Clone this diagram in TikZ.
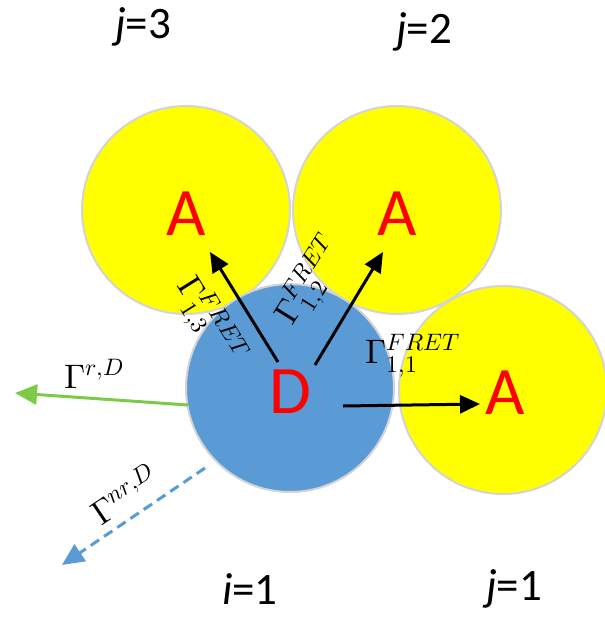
\documentclass[tikz,border=0pt]{standalone}
\usepackage{fontspec}
\usepackage{unicode-math}
\setmainfont{Carlito}
\setmathfont{Latin Modern Math}
\usetikzlibrary{arrows.meta}
\definecolor{ayel}{HTML}{FFFF00}
\definecolor{dblue}{HTML}{5B9BD5}
\definecolor{rgreen}{HTML}{7DC94A}
\definecolor{rimgray}{HTML}{D4D4D4}
\definecolor{lred}{HTML}{FF0000}
\tikzset{
  mol/.style={circle, draw=rimgray, line width=2pt, minimum size=208pt, inner sep=0pt},
  acc/.style={mol, fill=ayel},
  don/.style={mol, fill=dblue},
  letter/.style={text=lred, font=\fontsize{68}{70}\selectfont, inner sep=0pt},
  idx/.style={font=\fontsize{45}{47}\selectfont, inner sep=0pt},
  rate/.style={font=\fontsize{34}{36}\selectfont, inner sep=0pt},
  fret/.style={line width=3pt, -{Triangle[length=20pt,width=18pt]}},
  rad/.style={line width=3pt, draw=rgreen, -{Triangle[length=22pt,width=20pt]}, color=rgreen},
  nrad/.style={line width=3pt, draw=dblue, dash pattern=on 10pt off 6pt, -{Triangle[length=22pt,width=20pt]}, color=dblue}
}
\begin{document}
\begin{tikzpicture}[x=1pt,y=-1pt]
\useasboundingbox (0,0) rectangle (605,619);
\node[acc] (a3) at (186,210) {};
\node[acc] (a2) at (397,210) {};
\node[acc] (a1) at (503,390) {};
\node[don] (d) at (290,388) {};
\node[letter] (la3) at (186,214) {A};
\node[letter] (la2) at (397,214) {A};
\node[letter] (la1) at (505,393) {A};
\node[letter] (ld) at (290,392) {D};
\coordinate (s3) at (278,362);
\coordinate (t3) at (210,252);
\coordinate (s2) at (315,365);
\coordinate (t2) at (383,252);
\coordinate (s1) at (343,406);
\coordinate (t1) at (480,404);
\coordinate (sr) at (188,405);
\coordinate (tr) at (15,393);
\coordinate (snr) at (205,468);
\coordinate (tnr) at (62,565);
\draw[fret] (s3) -- (t3);
\draw[fret] (s2) -- (t2);
\draw[fret] (s1) -- (t1);
\draw[rad] (sr) -- (tr);
\draw[nrad] (snr) -- (tnr);
\node[rate, rotate=-58] (g13) at (208,322) {$\Gamma_{1,3}^{FRET}$};
\node[rate, rotate=58] (g12) at (312,282) {$\Gamma_{1,2}^{FRET}$};
\node[rate] (g11) at (413,356) {$\Gamma_{1,1}^{FRET}$};
\node[rate] (gr) at (94,374) {$\Gamma^{r,D}$};
\node[rate, rotate=34] (gnr) at (124,494) {$\Gamma^{nr,D}$};
\node[idx] (j3) at (143,27) {\textit{j}=3};
\node[idx] (j2) at (424,32) {\textit{j}=2};
\node[idx] (i1) at (250,589) {\textit{i}=1};
\node[idx] (j1) at (514,589) {\textit{j}=1};
\end{tikzpicture}
\end{document}
